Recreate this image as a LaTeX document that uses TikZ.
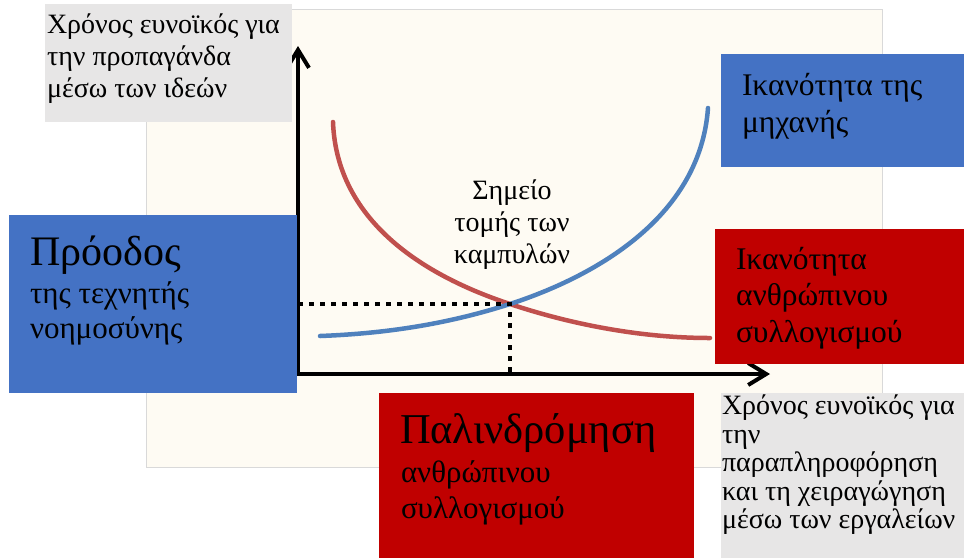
\documentclass[tikz,border=0pt]{standalone}
\usepackage{fontspec}
\setmainfont{Liberation Serif}
\usetikzlibrary{arrows.meta}
\definecolor{cream}{HTML}{FEFBF3}
\definecolor{frame}{HTML}{D9D9D9}
\definecolor{boxgrey}{HTML}{E7E6E6}
\definecolor{boxblue}{HTML}{4472C4}
\definecolor{boxred}{HTML}{C00000}
\definecolor{curvered}{HTML}{C0504D}
\definecolor{curveblue}{HTML}{4F81BD}
\tikzset{
  box/.style={inner sep=0pt, outer sep=0pt, draw=none},
  txt/.style={anchor=north west, inner sep=0pt, outer sep=0pt, align=left, text=black},
  axis/.style={line width=4pt, -{Straight Barb[length=18pt,width=22pt,line width=4pt]}},
  curve/.style={line width=4.5pt, line cap=round},
  guide/.style={line width=4.5pt, dash pattern=on 5pt off 6pt}
}
\begin{document}
\begin{tikzpicture}[x=1pt,y=-1pt]
\useasboundingbox (0,0) rectangle (964,558);
% background panel
\fill[cream, draw=frame, line width=1pt] (146,9) rectangle (882,467);
% axes
\coordinate (O) at (298,374);
\coordinate (Ytip) at (298,46);
\coordinate (Xtip) at (770,374);
\draw[axis] (298,376) -- (Ytip);
\draw[axis] (296,374) -- (Xtip);
% curves
\coordinate (P) at (510,304);
\draw[curve, curvered] (333,122) .. controls (337,230) and (440,281) .. (P)
  .. controls (570,324) and (640,338) .. (710,338);
\draw[curve, curveblue] (320,336) .. controls (400,333) and (460,320) .. (P)
  .. controls (590,278) and (700,220) .. (708,108);
% dotted guides
\coordinate (Py) at (298,304);
\coordinate (Px) at (510,374);
\draw[guide] (Py) -- (P) -- (Px);
% label
\node[anchor=north, inner sep=0pt, align=center, font=\fontsize{28}{32}\selectfont] (lbl) at (512,176.6)
  {\strut Σημείο\\τομής των\\καμπυλών};
% top-left grey box
\fill[boxgrey] (45,4) rectangle (292,122);
\node[txt, font=\fontsize{28}{32}\selectfont] (tl) at (47,10.6)
  {\strut Χρόνος ευνοϊκός για\\την προπαγάνδα\\μέσω των ιδεών};
% left blue box
\fill[boxblue] (9,215) rectangle (297,393);
\node[txt, font=\fontsize{42}{49}\selectfont] (lbt) at (30,230.7) {\strut Πρόοδος};
\node[txt, font=\fontsize{31}{35}\selectfont] (lbb) at (30,278.5)
  {\strut της τεχνητής\\νοημοσύνης};
% top-right blue box
\fill[boxblue] (721,54) rectangle (964,167);
\node[txt, font=\fontsize{31.5}{37}\selectfont] (trb) at (742,69.1)
  {\strut Ικανότητα της\\μηχανής};
% right red box
\fill[boxred] (715,229) rectangle (964,364);
\node[txt, font=\fontsize{31.5}{36.5}\selectfont] (rr) at (736,243.45)
  {\strut Ικανότητα\\ανθρώπινου\\συλλογισμού};
% bottom red box
\fill[boxred] (379,393) rectangle (694,558);
\node[txt, font=\fontsize{42.5}{49}\selectfont] (brt) at (400,408.7) {\strut Παλινδρόμηση};
\node[txt, font=\fontsize{31}{36}\selectfont] (brb) at (401,456.8)
  {\strut ανθρώπινου\\συλλογισμού};
% bottom-right grey box
\fill[boxgrey] (721,393) rectangle (964,558);
\node[txt, font=\fontsize{28}{28.5}\selectfont] (br) at (722,395)
  {\strut Χρόνος ευνοϊκός για\\την\\παραπληροφόρηση\\και τη χειραγώγηση\\μέσω των εργαλείων};
\end{tikzpicture}
\end{document}
